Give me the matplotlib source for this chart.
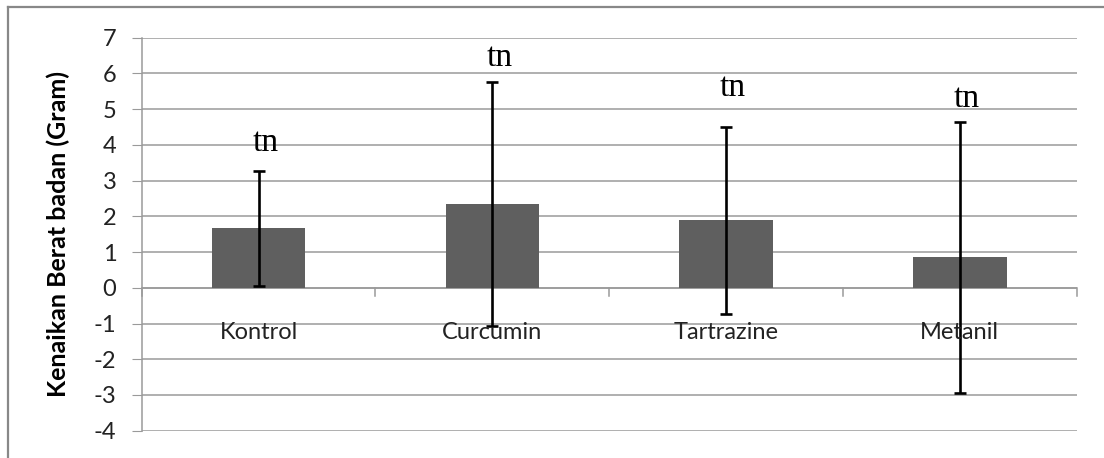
import matplotlib
matplotlib.use("Agg")
import matplotlib.pyplot as plt
from matplotlib.lines import Line2D
import numpy as np

# ── Données ────────────────────────────────────────────────────────────────
groups = ["Kontrol", "Curcumin", "Tartrazine", "Metanil"]
means = [1.66, 2.35, 1.89, 0.85]
errors = [1.62, 3.42, 2.61, 3.79]
notes = ["tn", "tn", "tn", "tn"]
note_y = [3.84, 6.2, 5.36, 5.05]

BAR = "#5f5f5f"
GRID = "#9a9a9a"

fig = plt.figure(figsize=(11.04, 4.58), dpi=100)
ax = fig.add_axes([0.1283, 0.0596, 0.8470, 0.8581])

x = np.arange(len(groups)) + 0.5
ax.bar(x, means, width=0.4, color=BAR, zorder=2)
ax.errorbar(x, means, yerr=errors, fmt="none", ecolor="black",
            elinewidth=1.9, capsize=4.3, capthick=1.9, zorder=3)

for xi, lab, yy in zip(x, notes, note_y):
    ax.text(xi + 0.03, yy, lab, ha="center", va="baseline",
            family="Liberation Serif", fontsize=24, color="black", zorder=4)

# étiquettes de catégories posées dans la zone de tracé (style Excel)
for xi, g in zip(x, groups):
    ax.text(xi, -1.25, g, ha="center", va="center", family="Lato",
            fontsize=17, color="#222222", zorder=4)

ax.set_xlim(0, len(groups))
ax.set_ylim(-4, 7)
ax.set_yticks(range(-4, 8))
ax.set_yticklabels([str(v) for v in range(-4, 8)], family="Lato", fontsize=17)
ax.tick_params(axis="y", length=7.2, color=GRID, pad=11, labelcolor="#222222")
ax.set_xticks([])
ax.grid(axis="y", color=GRID, linewidth=1.1, zorder=0)

for s in ["top", "right", "bottom"]:
    ax.spines[s].set_visible(False)
ax.spines["left"].set_color(GRID)
ax.spines["left"].set_linewidth(1.1)

# axe des catégories au niveau de 0 avec graduations vers le bas
ax.axhline(0, color=GRID, linewidth=1.1, zorder=1)
for b in range(len(groups) + 1):
    ax.plot([b, b], [0, -0.22], color=GRID, linewidth=1.1, zorder=1,
            clip_on=False)

ax.set_ylabel("Kenaikan Berat badan (Gram)", family="Lato", fontsize=18,
              fontweight="bold")
ax.yaxis.set_label_coords(-0.0767, 0.5)

# cadre extérieur du graphique
fig.add_artist(Line2D([8 / 1104, 8 / 1104], [0, 1 - 7 / 458],
                      transform=fig.transFigure, color="#888888", lw=1.6))
fig.add_artist(Line2D([8 / 1104, 1], [1 - 7 / 458, 1 - 7 / 458],
                      transform=fig.transFigure, color="#888888", lw=1.6))

fig.savefig("out.png", dpi=100)
